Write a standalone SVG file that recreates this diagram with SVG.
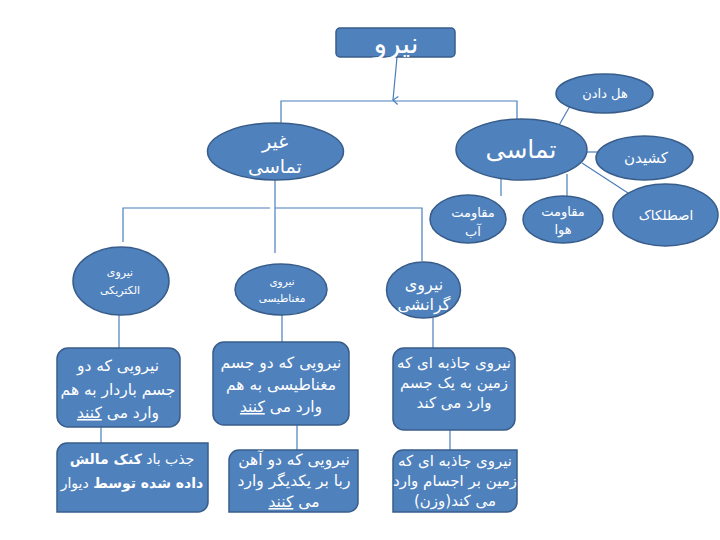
<svg xmlns="http://www.w3.org/2000/svg" width="720" height="540" viewBox="0 0 720 540">
<style>
.n{fill:#4F81BD;stroke:#385D8A;stroke-width:1.5}
.t{fill:#FFFFFF;font-family:"DejaVu Sans",sans-serif;text-anchor:middle;direction:rtl}
.c{fill:none;stroke:#4A7EBB;stroke-width:1.2}
.u{text-decoration:underline}
.b{font-weight:bold}
</style>
<defs>
<marker id="arr" markerWidth="10" markerHeight="10" refX="5" refY="9" orient="auto" markerUnits="userSpaceOnUse" viewBox="0 0 10 10">
<path d="M1,4 L5,9 L9,4" fill="none" stroke="#4A7EBB" stroke-width="1.2"/>
</marker>
</defs>
<rect width="720" height="540" fill="#FFFFFF"/>
<g id="connectors">
<line class="c" x1="397" y1="57" x2="393" y2="100" marker-end="url(#arr)"/>
<polyline class="c" points="281,124 281,101 517,101 517,121"/>
<line class="c" x1="275" y1="180" x2="275" y2="253"/>
<polyline class="c" points="123,242 123,208 270,208"/>
<polyline class="c" points="275,208 422,208 422,261"/>
<line class="c" x1="558" y1="127" x2="570" y2="106"/>
<line class="c" x1="586" y1="152" x2="597" y2="152"/>
<line class="c" x1="582" y1="163" x2="628" y2="193"/>
<line class="c" x1="501" y1="178" x2="501" y2="196"/>
<line class="c" x1="567" y1="174" x2="567" y2="196"/>
<line class="c" x1="119" y1="315" x2="119" y2="348"/>
<line class="c" x1="282" y1="315" x2="282" y2="342"/>
<line class="c" x1="433" y1="318" x2="433" y2="348"/>
<line class="c" x1="101" y1="427" x2="101" y2="443"/>
<line class="c" x1="297" y1="425" x2="297" y2="450"/>
<line class="c" x1="450" y1="430" x2="450" y2="450"/>
</g>
<g id="root">
<rect class="n" x="336" y="28" width="119" height="29" rx="4"/>
<text class="t" x="396" y="53" font-size="28">نیرو</text>
</g>
<g id="non-contact">
<ellipse class="n" cx="275.5" cy="151.5" rx="68" ry="28.5"/>
<text class="t" x="275" y="148" font-size="19">غیر</text>
<text class="t" x="275" y="173" font-size="19">تماسی</text>
</g>
<g id="contact">
<ellipse class="n" cx="521.5" cy="149.5" rx="65.5" ry="30.5"/>
<text class="t" x="521" y="158" font-size="25">تماسی</text>
</g>
<g id="push">
<ellipse class="n" cx="604.5" cy="93.5" rx="48.5" ry="19.5"/>
<text class="t" x="605" y="98" font-size="13">هل دادن</text>
</g>
<g id="pull">
<ellipse class="n" cx="644.5" cy="158" rx="48.5" ry="22"/>
<text class="t" x="646" y="163" font-size="15">کشیدن</text>
</g>
<g id="friction">
<ellipse class="n" cx="665.5" cy="215" rx="52.5" ry="31"/>
<text class="t" x="666" y="220" font-size="13.5">اصطلکاک</text>
</g>
<g id="water-resistance">
<ellipse class="n" cx="468" cy="219" rx="38" ry="24"/>
<text class="t" x="473" y="217" font-size="13">مقاومت</text>
<text class="t" x="473" y="236" font-size="13">آب</text>
</g>
<g id="air-resistance">
<ellipse class="n" cx="563" cy="219.5" rx="40" ry="23.5"/>
<text class="t" x="563" y="216" font-size="13">مقاومت</text>
<text class="t" x="563" y="234" font-size="13">هوا</text>
</g>
<g id="electric">
<ellipse class="n" cx="121" cy="281" rx="48" ry="34"/>
<text class="t" x="120" y="276" font-size="11">نیروی</text>
<text class="t" x="120" y="294" font-size="11">الکتریکی</text>
</g>
<g id="magnetic">
<ellipse class="n" cx="281" cy="289.5" rx="46" ry="25.5"/>
<text class="t" x="282" y="285" font-size="10.5">نیروی</text>
<text class="t" x="282" y="302" font-size="10.5">مغناطیسی</text>
</g>
<g id="gravity">
<ellipse class="n" cx="423.5" cy="290" rx="37" ry="28"/>
<text class="t" x="424" y="290" font-size="16">نیروی</text>
<text class="t" x="424" y="310" font-size="16">گرانشی</text>
</g>
<g id="electric-def">
<rect class="n" x="57" y="348" width="123" height="79" rx="11"/>
<text class="t" x="118" y="371" font-size="15.5">نیرویی که دو</text>
<text class="t" x="118" y="395" font-size="15.5">جسم باردار به هم</text>
<text class="t" x="118" y="418" font-size="15.5">وارد می <tspan class="u">کنند</tspan></text>
</g>
<g id="magnetic-def">
<rect class="n" x="213" y="342" width="136" height="83" rx="11"/>
<text class="t" x="281" y="368" font-size="15.5">نیرویی که دو جسم</text>
<text class="t" x="281" y="390" font-size="15.5">مغناطیسی به هم</text>
<text class="t" x="281" y="412" font-size="15.5">وارد می <tspan class="u">کنند</tspan></text>
</g>
<g id="gravity-def">
<rect class="n" x="393" y="348" width="122" height="82" rx="11"/>
<text class="t" x="454" y="368" font-size="15">نیروی جاذبه ای که</text>
<text class="t" x="454" y="388" font-size="15">زمین به یک جسم</text>
<text class="t" x="454" y="408" font-size="15">وارد می کند</text>
</g>
<g id="electric-example">
<path class="n" d="M67,443 H208 V502 A10,10 0 0 1 198,512 H57 V453 A10,10 0 0 1 67,443 Z"/>
<text class="t" x="132" y="464" font-size="14">جذب باد <tspan class="b">کنک مالش</tspan></text>
<text class="t" x="132" y="488" font-size="14"><tspan class="b">داده شده توسط</tspan> دیوار</text>
</g>
<g id="magnetic-example">
<path class="n" d="M239,450 H358 V502 A10,10 0 0 1 348,512 H229 V460 A10,10 0 0 1 239,450 Z"/>
<text class="t" x="294" y="465" font-size="15.5">نیرویی که دو آهن</text>
<text class="t" x="294" y="486" font-size="15.5">ربا بر یکدیگر وارد</text>
<text class="t" x="294" y="507" font-size="15.5">می <tspan class="u">کنند</tspan></text>
</g>
<g id="gravity-example">
<path class="n" d="M403,450 H517 V502 A10,10 0 0 1 507,512 H393 V460 A10,10 0 0 1 403,450 Z"/>
<text class="t" x="455" y="466" font-size="15">نیروی جاذبه ای که</text>
<text class="t" x="455" y="486" font-size="15">زمین بر اجسام وارد</text>
<text class="t" x="455" y="506" font-size="15">می کند(وزن)</text>
</g>
</svg>
